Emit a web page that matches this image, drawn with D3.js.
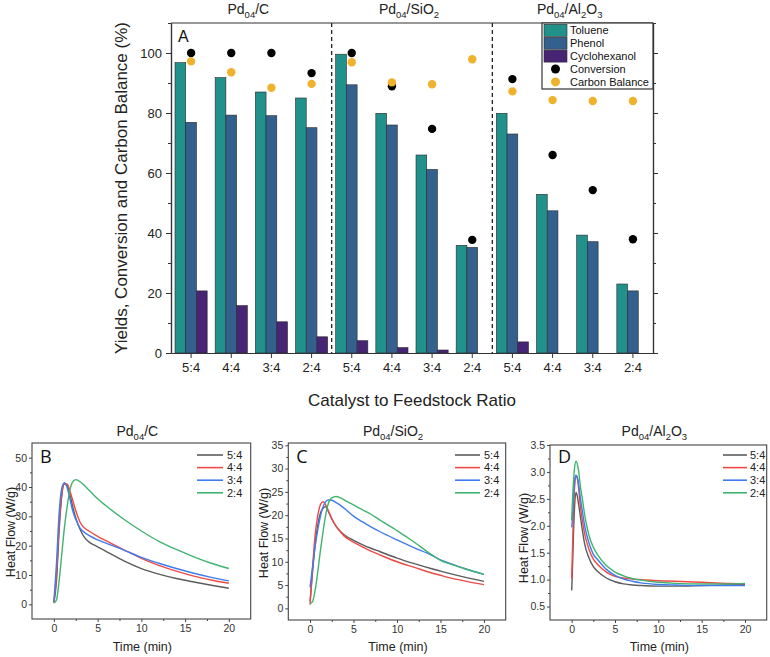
<!DOCTYPE html>
<html><head><meta charset="utf-8">
<script src="https://cdn.jsdelivr.net/npm/d3@7/dist/d3.min.js"></script>
<style>
body{margin:0;background:#fff}
svg{display:block;font-family:"Liberation Sans",Arial,sans-serif}
</style>
</head><body>
<svg id="c" width="770" height="657"></svg>
<script>
// ---------- DATA: panel A ----------
const ratios = ["5:4", "4:4", "3:4", "2:4"];
const catalystLabels = [
  [{t:"Pd"},{t:"04",sub:true},{t:"/C"}],
  [{t:"Pd"},{t:"04",sub:true},{t:"/SiO"},{t:"2",sub:true}],
  [{t:"Pd"},{t:"04",sub:true},{t:"/Al"},{t:"2",sub:true},{t:"O"},{t:"3",sub:true}]
];
const seriesNames = ["Toluene", "Phenol", "Cyclohexanol", "Conversion", "Carbon Balance"];
const toluene      = [96.8, 91.8, 87.0, 85.0, 99.6, 79.9, 66.0, 35.9, 79.9, 52.9, 39.3, 23.0];
const phenol       = [76.9, 79.3, 79.1, 75.1, 89.4, 76.0, 61.2, 35.2, 73.0, 47.4, 37.1, 20.7];
const cyclohexanol = [20.7, 15.8, 10.4, 5.4, 4.1, 1.8, 1.0, 0, 3.7, 0, 0, 0];
const conversion   = [100, 100, 100, 93.3, 100, 88.9, 74.7, 37.7, 91.3, 66.0, 54.3, 37.9];
const carbonBalance= [97.2, 93.6, 88.4, 89.7, 96.9, 90.2, 89.6, 97.9, 87.2, 84.3, 84.0, 84.0];
const yTicksA = [0, 20, 40, 60, 80, 100];

// ---------- DATA: heat flow panels ----------
const lineNames = ["5:4", "4:4", "3:4", "2:4"];
// Panel B  Pd04/C
const timeB = [0, 0.3, 0.6, 0.9, 1.2, 1.5, 1.8, 2.1, 2.5, 3, 3.5, 4, 5, 6, 8, 10, 12, 14, 16, 18, 20];
const heatB_54 = [0.5, 8, 25, 37, 41, 40.5, 38, 34, 29.5, 25.5, 22.8, 21.3, 19.6, 18, 14.8, 12.2, 10.3, 8.8, 7.6, 6.5, 5.5];
const heatB_44 = [0.5, 10, 27, 37.5, 41, 41, 39, 36, 32, 28, 26, 25, 23.2, 21.6, 18.6, 15.7, 13.3, 11.3, 9.6, 8.3, 7.2];
const heatB_34 = [1, 14, 31, 39.5, 41.5, 40, 36.5, 32.5, 29, 26, 24.5, 23.5, 22, 20.8, 18.5, 16, 14, 12.2, 10.6, 9.2, 8.0];
const heatB_24 = [0.5, 1.5, 8, 17, 26, 33, 38.5, 41.5, 42.5, 41.8, 40.5, 39, 36, 33.5, 29, 25, 21.5, 18.7, 16.2, 14, 12.2];
// Panel C  Pd04/SiO2
const timeC = [0, 0.3, 0.6, 0.9, 1.2, 1.5, 1.8, 2.1, 2.5, 3, 3.5, 4, 5, 6, 7, 8, 10, 12, 14, 15, 16, 18, 20];
const heatC_54 = [1.5, 8, 14, 18, 20.5, 21.5, 21.8, 20.8, 19.2, 17.6, 16.5, 15.7, 14.6, 13.7, 12.9, 12.2, 10.8, 9.6, 8.5, 8.0, 7.5, 6.6, 5.8];
const heatC_44 = [0.8, 9, 16, 20, 22.3, 22.9, 22.2, 21, 19.3, 17.6, 16.4, 15.4, 14.2, 13.2, 12.3, 11.5, 10.0, 8.8, 7.6, 7.1, 6.6, 5.8, 5.1];
const heatC_34 = [4.5, 9, 13.5, 17, 19.8, 21.8, 22.9, 23.3, 23.2, 22.7, 22.1, 21.4, 19.8, 18.6, 17.5, 16.5, 14.7, 13.0, 11.4, 10.4, 9.7, 8.4, 7.3];
const heatC_24 = [1, 1.5, 4, 8, 12.5, 16.5, 20, 22.5, 23.7, 24.0, 23.7, 23.2, 22.2, 21.2, 20.2, 19.0, 16.7, 14.2, 11.5, 10.3, 9.6, 8.4, 7.3];
// Panel D  Pd04/Al2O3
const timeD = [0, 0.05, 0.2, 0.35, 0.5, 0.65, 0.8, 1, 1.25, 1.5, 2, 2.5, 3, 4, 5, 6, 7, 8, 10, 12, 15, 18, 20];
const heatD_54 = [0.8, 1.0, 1.8, 2.4, 2.62, 2.55, 2.4, 2.18, 1.9, 1.66, 1.4, 1.24, 1.15, 1.03, 0.96, 0.92, 0.9, 0.89, 0.88, 0.88, 0.89, 0.9, 0.91];
const heatD_44 = [1.02, 1.3, 2.2, 2.75, 2.93, 2.88, 2.7, 2.36, 2.08, 1.85, 1.56, 1.38, 1.28, 1.14, 1.06, 1.03, 1.01, 1.0, 0.98, 0.97, 0.95, 0.93, 0.92];
const heatD_34 = [1.97, 2.05, 2.5, 2.85, 2.94, 2.9, 2.78, 2.52, 2.25, 2.0, 1.68, 1.47, 1.37, 1.19, 1.08, 1.01, 0.97, 0.94, 0.91, 0.9, 0.89, 0.89, 0.89];
const heatD_24 = [2.1, 2.3, 2.8, 3.1, 3.2, 3.15, 3.02, 2.74, 2.48, 2.2, 1.82, 1.6, 1.46, 1.26, 1.14, 1.07, 1.02, 0.99, 0.95, 0.93, 0.92, 0.92, 0.93];

// ---------- styles ----------
const barColors = {Toluene:"#21918c", Phenol:"#33608d", Cyclohexanol:"#482475"};
const dotColors = {Conversion:"#000000", "Carbon Balance":"#efb22c"};
const lineColors = ["#5c5c5c", "#ef4a45", "#3f7bef", "#3fb46f"];
const axisColor = "#333";

const svg = d3.select("#c");

function rich(sel, parts, fs){
  sel.attr("font-size", fs);
  let shifted = false;
  parts.forEach(p => {
    const ts = sel.append("tspan").text(p.t);
    if (p.sub) { ts.attr("font-size", fs*0.68).attr("dy", fs*0.28); shifted = true; }
    else if (shifted) { ts.attr("dy", -fs*0.28); shifted = false; }
  });
}

// ================= PANEL A =================
const keys = [];
catalystLabels.forEach((c, ci) => ratios.forEach(r => keys.push(ci + "|" + r)));
const A = {l:171, r:653, t:23, b:353};
const x = d3.scaleBand().domain(keys).range([A.l, A.r]).padding(0);
const y = d3.scaleLinear().domain([0, 110]).range([A.b, A.t]);
const barKeys = ["Toluene", "Phenol", "Cyclohexanol"];
const barVals = {Toluene: toluene, Phenol: phenol, Cyclohexanol: cyclohexanol};
const xs = d3.scaleBand().domain(barKeys).range([4, x.bandwidth() - 4]).padding(0);

const gA = svg.append("g");
barKeys.forEach(k => {
  gA.selectAll(null).data(keys).enter().append("rect")
    .attr("x", d => x(d) + xs(k))
    .attr("width", xs.bandwidth())
    .attr("y", (d, i) => y(barVals[k][i]))
    .attr("height", (d, i) => y(0) - y(barVals[k][i]))
    .attr("fill", barColors[k])
    .attr("stroke", (d, i) => barVals[k][i] > 0 ? "#2a2a2a" : "none")
    .attr("stroke-width", 0.6);
});
[["Conversion", conversion], ["Carbon Balance", carbonBalance]].forEach(([n, arr]) => {
  gA.selectAll(null).data(keys).enter().append("circle")
    .attr("cx", d => x(d) + x.bandwidth()/2)
    .attr("cy", (d, i) => y(arr[i]))
    .attr("r", 4.2)
    .attr("fill", dotColors[n]);
});
[keys[4], keys[8]].forEach(k => {
  gA.append("line").attr("x1", x(k)).attr("x2", x(k)).attr("y1", A.t).attr("y2", A.b)
    .attr("stroke", "#222").attr("stroke-width", 1.3).attr("stroke-dasharray", "4,3");
});
gA.append("line").attr("x1", A.l).attr("x2", A.r).attr("y1", A.t).attr("y2", A.t).attr("stroke", axisColor).attr("stroke-width", 1.2);
gA.append("g").attr("transform", `translate(${A.l},0)`)
  .call(d3.axisLeft(y).tickValues(yTicksA).tickSize(5).tickPadding(4).tickSizeOuter(0));
gA.append("g").attr("transform", `translate(${A.l},0)`)
  .call(d3.axisLeft(y).tickValues([10,30,50,70,90,110]).tickSize(3).tickFormat("").tickSizeOuter(0));
gA.append("g").attr("transform", `translate(${A.r},0)`)
  .call(d3.axisRight(y).tickValues([0,20,40,60,80,100]).tickSize(5).tickFormat("").tickSizeOuter(0));
gA.append("g").attr("transform", `translate(${A.r},0)`)
  .call(d3.axisRight(y).tickValues([10,30,50,70,90,110]).tickSize(3).tickFormat("").tickSizeOuter(0));
gA.append("g").attr("transform", `translate(0,${A.b})`)
  .call(d3.axisBottom(x).tickSize(5).tickPadding(5).tickSizeOuter(0).tickFormat(d => d.split("|")[1]));
gA.selectAll(".domain").attr("stroke", axisColor).attr("stroke-width", 1.2);
gA.selectAll(".tick line").attr("stroke", axisColor).attr("stroke-width", 1);
gA.selectAll(".tick text").attr("font-size", 13).attr("fill", "#222").attr("font-family", "Liberation Sans, Arial, sans-serif");

catalystLabels.forEach((c, ci) => {
  const cx = (x(keys[ci*4]) + x(keys[ci*4+3]) + x.bandwidth()) / 2 - 3;
  const t = gA.append("text").attr("x", cx).attr("y", 14).attr("text-anchor", "middle").attr("fill", "#222");
  rich(t, c, 14);
});
gA.append("text").attr("x", 178).attr("y", 42).attr("font-size", 16).attr("fill", "#111").text("A");
gA.append("text").attr("transform", `translate(127,${(A.t+A.b)/2}) rotate(-90)`)
  .attr("text-anchor", "middle").attr("font-size", 17).attr("fill", "#222")
  .text("Yields, Conversion and Carbon Balance (%)");
gA.append("text").attr("x", 412).attr("y", 406).attr("text-anchor", "middle")
  .attr("font-size", 17).attr("fill", "#222").text("Catalyst to Feedstock Ratio");

const lg = gA.append("g");
lg.append("rect").attr("x", 542).attr("y", A.t).attr("width", A.r - 542).attr("height", 66)
  .attr("fill", "#fff").attr("stroke", axisColor).attr("stroke-width", 1.2);
seriesNames.forEach((n, i) => {
  const cy = 30.3 + i * 12.9;
  if (barColors[n]) {
    lg.append("rect").attr("x", 544).attr("y", cy - 6).attr("width", 23).attr("height", 12)
      .attr("fill", barColors[n]).attr("stroke", "#2a2a2a").attr("stroke-width", 0.6);
  } else {
    lg.append("circle").attr("cx", 555.5).attr("cy", cy).attr("r", 4.5).attr("fill", dotColors[n]);
  }
  lg.append("text").attr("x", 570).attr("y", cy + 4).attr("font-size", 11).attr("fill", "#111").text(n);
});

// ================= HEAT FLOW PANELS =================
const panels = [
  {letter:"B", title: catalystLabels[0], time: timeB, series:[heatB_54, heatB_44, heatB_34, heatB_24],
   box:{l:32, r:250.7, t:443, b:619}, ydom:[-5,55], yticks:[0,10,20,30,40,50], yminor:[5,15,25,35,45], yfmt:d3.format("d"),
   ylab:{x:11, y:532}, leg:{x1:197, x2:223, tx:227}},
  {letter:"C", title: catalystLabels[1], time: timeC, series:[heatC_54, heatC_44, heatC_34, heatC_24],
   box:{l:288.3, r:505.7, t:443, b:620}, ydom:[-2.5,35.5], yticks:[0,5,10,15,20,25,30,35], yminor:[2.5,7.5,12.5,17.5,22.5,27.5,32.5], yfmt:d3.format("d"),
   ylab:{x:264, y:533}, leg:{x1:455, x2:480, tx:484}},
  {letter:"D", title: catalystLabels[2], time: timeD, series:[heatD_54, heatD_44, heatD_34, heatD_24],
   box:{l:550, r:766.7, t:445, b:620}, ydom:[0.25,3.5], yticks:[0.5,1,1.5,2,2.5,3,3.5], yminor:[0.75,1.25,1.75,2.25,2.75,3.25], yfmt:d3.format(".1f"),
   ylab:{x:524, y:538}, leg:{x1:723, x2:747, tx:750}}
];
const xTicks = [0, 5, 10, 15, 20];
const xMinor = [2.5, 7.5, 12.5, 17.5];

panels.forEach(p => {
  const g = svg.append("g");
  const b = p.box;
  const px = d3.scaleLinear().domain([-2.5, 22.5]).range([b.l, b.r]);
  const py = d3.scaleLinear().domain(p.ydom).range([b.b, b.t]);
  const fc = "#444";
  const line = d3.line().x((d, i) => px(p.time[i])).y(d => py(d)).curve(d3.curveMonotoneX);
  p.series.forEach((s, si) => {
    g.append("path").attr("d", line(s)).attr("fill", "none")
      .attr("stroke", lineColors[si]).attr("stroke-width", 1.4);
  });
  g.append("rect").attr("x", b.l).attr("y", b.t).attr("width", b.r - b.l).attr("height", b.b - b.t)
    .attr("fill", "none").attr("stroke", fc).attr("stroke-width", 1.1);
  g.append("g").attr("transform", `translate(0,${b.b})`)
    .call(d3.axisBottom(px).tickValues(xTicks).tickSize(3).tickPadding(3).tickSizeOuter(0));
  g.append("g").attr("transform", `translate(0,${b.b})`)
    .call(d3.axisBottom(px).tickValues(xMinor).tickSize(2).tickFormat("").tickSizeOuter(0));
  g.append("g").attr("transform", `translate(${b.l},0)`)
    .call(d3.axisLeft(py).tickValues(p.yticks).tickSize(3).tickPadding(2).tickFormat(p.yfmt).tickSizeOuter(0));
  g.append("g").attr("transform", `translate(${b.l},0)`)
    .call(d3.axisLeft(py).tickValues(p.yminor).tickSize(2).tickFormat("").tickSizeOuter(0));
  g.selectAll(".domain").remove();
  g.selectAll(".tick line").attr("stroke", fc);
  g.selectAll(".tick text").attr("font-size", 10.5).attr("fill", "#333").attr("font-family", "Liberation Sans, Arial, sans-serif");
  const cx = (b.l + b.r) / 2 - 4;
  const t = g.append("text").attr("x", cx).attr("y", 436).attr("text-anchor", "middle").attr("fill", "#222");
  rich(t, p.title, 14);
  g.append("text").attr("x", b.l + 8).attr("y", 463).attr("font-size", 18)
    .attr("font-family", "Open Sans, sans-serif").attr("fill", "#111").text(p.letter);
  g.append("text").attr("transform", `translate(${p.ylab.x},${p.ylab.y}) rotate(-90)`)
    .attr("text-anchor", "middle").attr("dy", "0.35em").attr("font-size", 12.5).attr("fill", "#222").text("Heat Flow (W/g)");
  g.append("text").attr("x", (b.l + b.r)/2 + 1).attr("y", 651).attr("text-anchor", "middle")
    .attr("font-size", 12.5).attr("fill", "#222").text("Time (min)");
  lineNames.forEach((n, i) => {
    const ly = 455 + i * 12.6;
    g.append("line").attr("x1", p.leg.x1).attr("x2", p.leg.x2).attr("y1", ly).attr("y2", ly)
      .attr("stroke", lineColors[i]).attr("stroke-width", 1.6);
    g.append("text").attr("x", p.leg.tx).attr("y", ly).attr("dy", "0.35em")
      .attr("font-size", 11).attr("fill", "#222").text(n);
  });
});
</script>
</body></html>
